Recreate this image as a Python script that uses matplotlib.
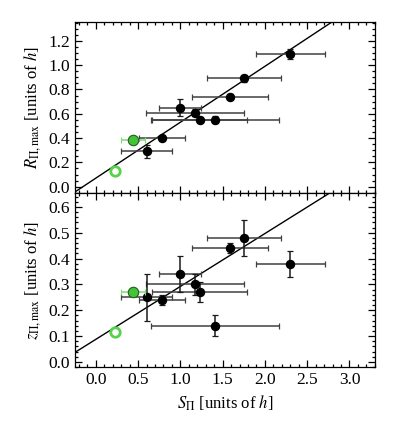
import numpy as np
import matplotlib
matplotlib.use("Agg")
import matplotlib.pyplot as plt
import matplotlib.ticker as ticker

# black sample
s_pi = [0.60, 0.78, 1.00, 1.17, 1.23, 1.41, 1.59, 1.75, 2.30]
s_err = [0.30, 0.27, 0.25, 0.58, 0.56, 0.76, 0.45, 0.44, 0.41]
r_max = [0.29, 0.40, 0.65, 0.61, 0.55, 0.55, 0.74, 0.89, 1.09]
r_err = [0.05, 0.02, 0.07, 0.03, 0.02, 0.03, 0.02, 0.03, 0.04]
z_max = [0.25, 0.24, 0.34, 0.30, 0.27, 0.14, 0.44, 0.48, 0.38]
z_err = [0.09, 0.02, 0.07, 0.04, 0.04, 0.04, 0.02, 0.07, 0.05]

# green points
g_s, g_s_err, g_r, g_z = 0.44, 0.14, 0.38, 0.27
go_s, go_r, go_z = 0.23, 0.125, 0.117

# fitted lines: intercept, slope
fit_r = (0.07, 0.46)
fit_z = (0.087, 0.205)

plt.rcParams["font.family"] = "serif"
plt.rcParams["font.serif"] = ["Liberation Serif", "DejaVu Serif"]
plt.rcParams["mathtext.fontset"] = "stix"
plt.rcParams["font.size"] = 12
plt.rcParams["xtick.labelsize"] = 12.5
plt.rcParams["ytick.labelsize"] = 12.5

fig = plt.figure(figsize=(3.95, 4.23), dpi=100)
ax1 = fig.add_axes([0.19, 0.5437, 0.759, 0.405])
ax2 = fig.add_axes([0.19, 0.1324, 0.759, 0.4113])

xlim = (-0.245, 3.3)
xx = np.array(xlim)


def style(ax, ymaj, ymin):
    ax.set_xlim(*xlim)
    ax.xaxis.set_major_locator(ticker.MultipleLocator(0.5))
    ax.xaxis.set_minor_locator(ticker.MultipleLocator(0.1))
    ax.yaxis.set_major_locator(ticker.MultipleLocator(ymaj))
    ax.yaxis.set_minor_locator(ticker.MultipleLocator(ymin))
    ax.xaxis.set_major_formatter(ticker.FormatStrFormatter("%.1f"))
    ax.yaxis.set_major_formatter(ticker.FormatStrFormatter("%.1f"))
    ax.tick_params(which="both", direction="in", top=True, right=True, width=0.9)
    ax.tick_params(which="major", length=5)
    ax.tick_params(which="minor", length=2.5)
    for sp in ax.spines.values():
        sp.set_linewidth(0.9)


def draw(ax, y, yerr, gy, goy, fit):
    ax.plot(xx, fit[0] + fit[1] * xx, color="k", lw=1.0, zorder=1)
    ax.errorbar(s_pi, y, xerr=s_err, fmt="none", ecolor="0.25", elinewidth=1.1,
                capsize=2.5, capthick=0.9, zorder=2)
    ax.errorbar(s_pi, y, yerr=yerr, fmt="o", color="k", ms=5.8, ecolor="0.1",
                elinewidth=1.1, capsize=2.5, capthick=0.9, zorder=3)
    ax.errorbar([g_s], [gy], xerr=[g_s_err], fmt="o", color="#44c23a", ms=7.5,
                mec="#1f5f1a", mew=0.8, ecolor="#7fdc74", elinewidth=1.1,
                capsize=2.5, zorder=4)
    ax.plot([go_s], [goy], "o", ms=6.8, mfc="white", mec="#55d44a", mew=2.0, zorder=4)


draw(ax1, r_max, r_err, g_r, go_r, fit_r)
style(ax1, 0.2, 0.05)
ax1.set_ylim(-0.052, 1.357)
ax1.tick_params(labelbottom=False)
ax1.set_ylabel(r"$R_{\Pi,\mathrm{max}}$ [units of $h$]")

draw(ax2, z_max, z_err, g_z, go_z, fit_z)
style(ax2, 0.1, 0.02)
ax2.set_ylim(-0.02, 0.654)
ax2.set_ylabel(r"$z_{\Pi,\mathrm{max}}$ [units of $h$]")
ax2.set_xlabel(r"$S_{\Pi}$ [units of $h$]")

fig.savefig("out.png", dpi=100)
